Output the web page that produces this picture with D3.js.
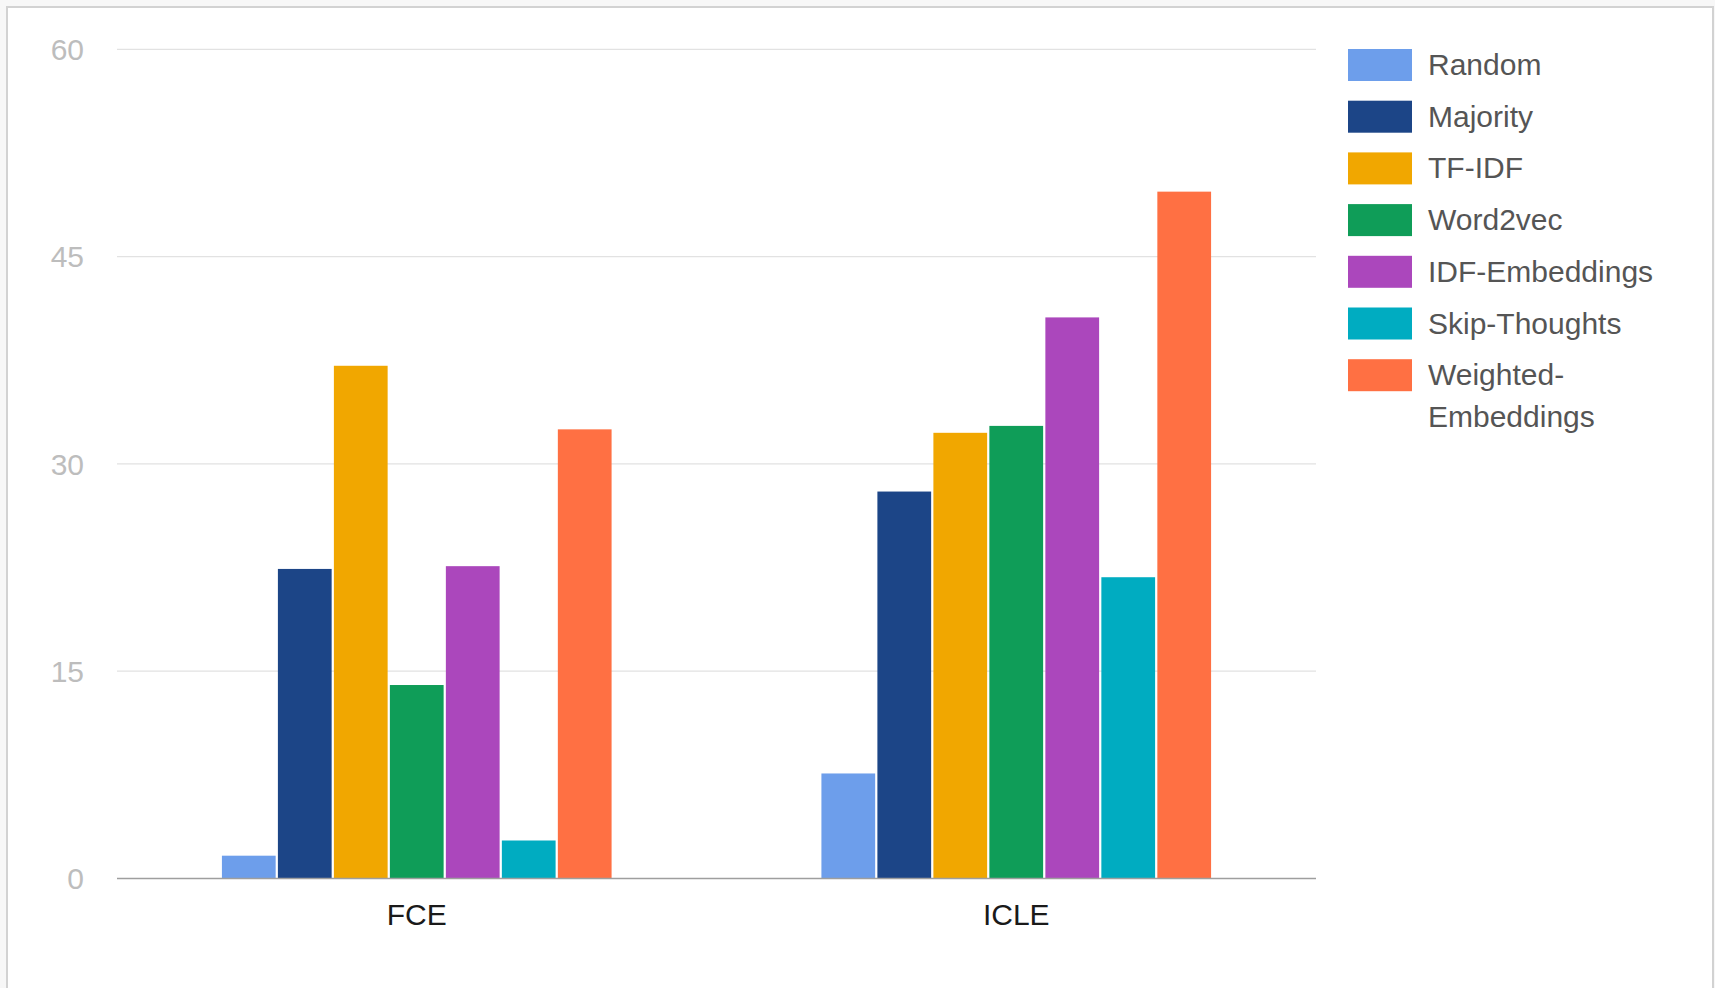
<!DOCTYPE html>
<html>
<head>
    <meta charset="utf-8" />
    <title>FCE / ICLE</title>
    <script src="https://d3js.org/d3.v7.min.js"></script>
    <style>
        body { margin: 0; background: #f7f7f7; overflow: hidden; }
        text { font-family: "Liberation Sans", Arial, sans-serif; }
    </style>
</head>
<body>
    <svg id='chart'></svg>
    <script>
        // data
        var categories = ['FCE', 'ICLE']
        var series = ['Random', 'Majority', 'TF-IDF', 'Word2vec', 'IDF-Embeddings', 'Skip-Thoughts', 'Weighted-Embeddings']
        var fceValues = [1.65, 22.4, 37.1, 14.0, 22.6, 2.75, 32.5]
        var icleValues = [7.6, 28.0, 32.25, 32.75, 40.6, 21.8, 49.7]
        var yTicks = [0, 15, 30, 45, 60]
        var colors = ['#6d9eeb', '#1c4587', '#f1a700', '#0f9d58', '#ab47bc', '#00acc1', '#ff7043']

        var W = 1715, H = 988

        var svg = d3.select('#chart')
            .attr('width', W)
            .attr('height', H)

        // white panel with gray frame
        svg.append('rect')
            .attr('x', 7).attr('y', 7)
            .attr('width', 1706).attr('height', 1000)
            .style('fill', '#fff')
            .style('stroke', '#d2d2d2')
            .style('stroke-width', 2)

        var x0 = d3.scaleBand()
            .domain(categories)
            .range([117, 1316])
            .paddingInner(0.35)
            .paddingOuter(0.175)

        var x1 = d3.scaleBand()
            .domain(series)
            .range([0, x0.bandwidth()])
            .paddingInner(0.04)

        var y = d3.scaleLinear()
            .domain([0, 60])
            .range([878.5, 49.3])

        var color = d3.scaleOrdinal().domain(series).range(colors)

        // gridlines
        svg.append('g')
            .selectAll('line')
            .data(yTicks.filter(d => d > 0))
            .enter().append('line')
            .attr('x1', 117).attr('x2', 1316)
            .attr('y1', d => y(d)).attr('y2', d => y(d))
            .style('stroke', '#e2e2e2')
            .style('stroke-width', 1.3)

        // y labels
        svg.append('g')
            .selectAll('text')
            .data(yTicks)
            .enter().append('text')
            .attr('x', 84)
            .attr('y', d => y(d))
            .attr('dy', '0.36em')
            .attr('text-anchor', 'end')
            .style('font-size', '30px')
            .style('fill', '#bdbdbd')
            .text(d => d)

        var rows = categories.map((c, i) => ({
            cat: c,
            vals: i == 0 ? fceValues : icleValues
        }))

        var groups = svg.append('g')
            .selectAll('g')
            .data(rows)
            .enter().append('g')
            .attr('transform', d => `translate(${x0(d.cat)},0)`)

        groups.selectAll('rect')
            .data(d => d.vals.map((v, j) => ({ s: series[j], v: v })))
            .enter().append('rect')
            .attr('x', d => x1(d.s))
            .attr('width', x1.bandwidth())
            .attr('y', d => y(d.v))
            .attr('height', d => y(0) - y(d.v))
            .style('fill', d => color(d.s))

        // baseline
        svg.append('line')
            .attr('x1', 117).attr('x2', 1316)
            .attr('y1', y(0)).attr('y2', y(0))
            .style('stroke', '#9e9e9e')
            .style('stroke-width', 1.6)

        // category labels
        svg.append('g')
            .selectAll('text')
            .data(categories)
            .enter().append('text')
            .attr('x', d => x0(d) + x0.bandwidth() / 2)
            .attr('y', 925)
            .attr('text-anchor', 'middle')
            .style('font-size', '30px')
            .style('fill', '#1a1a1a')
            .text(d => d)

        // legend
        var legend = svg.append('g')
            .selectAll('g')
            .data(series)
            .enter().append('g')
            .attr('transform', (d, i) => `translate(1348,${49 + i * 51.7})`)

        legend.append('rect')
            .attr('width', 64)
            .attr('height', 32)
            .style('fill', d => color(d))

        legend.append('text')
            .attr('x', 80)
            .attr('y', 26)
            .style('font-size', '30px')
            .style('fill', '#555')
            .each(function (d) {
                var parts = d == 'Weighted-Embeddings' ? ['Weighted-', 'Embeddings'] : [d]
                var t = d3.select(this)
                parts.forEach((p, k) => {
                    t.append('tspan')
                        .attr('x', 80)
                        .attr('dy', k == 0 ? 0 : 42)
                        .text(p)
                })
            })
    </script>
</body>
</html>
